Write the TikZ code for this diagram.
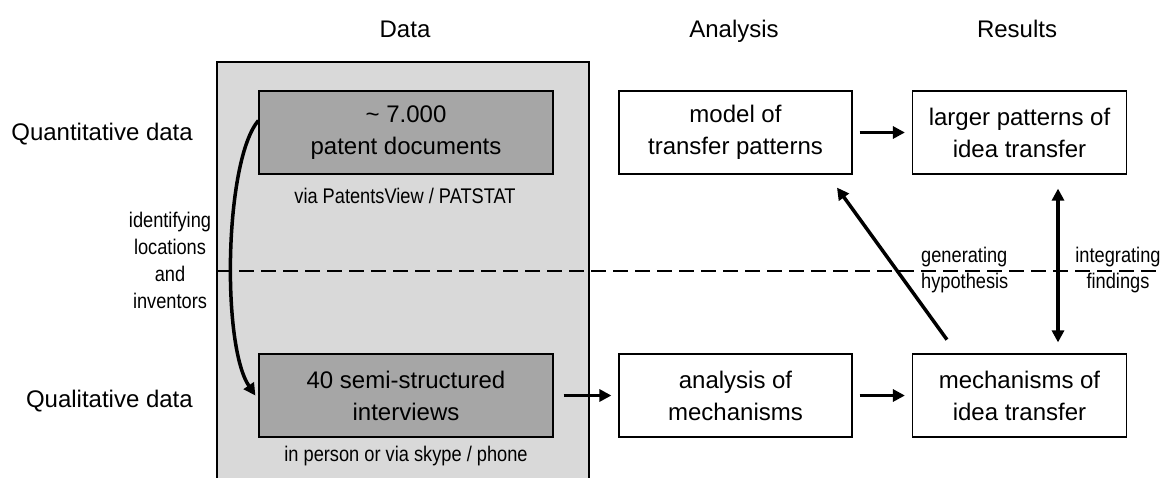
\documentclass[tikz,border=0pt]{standalone}
\usepackage{fontspec}
\setmainfont{Liberation Sans}
\newfontfamily\narrowfont[FakeStretch=0.86]{Liberation Sans}
\usepackage{tikz}
\usetikzlibrary{arrows.meta,positioning}
\definecolor{datagray}{HTML}{D9D9D9}
\definecolor{srcgray}{HTML}{A6A6A6}
\tikzset{every node/.append style={inner sep=0pt}}
\tikzset{bigtext/.style={font=\fontsize{24}{32}\selectfont}}
\tikzset{smalltext/.style={font=\narrowfont\fontsize{21.2}{26}\selectfont}}
\tikzset{box/.style={draw, line width=1.2pt, align=center, bigtext,
    minimum height=83pt}}
\tikzset{srcbox/.style={box, fill=srcgray, minimum width=294pt}}
\tikzset{arr/.style={-{Triangle[length=12pt,width=12pt]}, line width=3.5pt}}

\begin{document}
\begin{tikzpicture}[x=1pt,y=-1pt]
  \pgfmathsetmacro{\xd}{406}
  \pgfmathsetmacro{\xa}{735.5}
  \pgfmathsetmacro{\xr}{1019.5}
  \pgfmathsetmacro{\yq}{132.5}
  \pgfmathsetmacro{\yl}{395.5}
  \useasboundingbox (0,0) rectangle (1161,477);

  % data column
  \fill[datagray] (217,62) rectangle (589,490);
  \draw[line width=1.2pt] (217,490)--(217,62)--(589,62)--(589,490);

  \coordinate (divL) at (217,271);
  \coordinate (divR) at (1161,271);
  \draw[line width=2pt, dash pattern=on 15pt off 7pt] (divL) -- (divR);

  \node[bigtext, anchor=base] (hdata) at (405,37) {Data};
  \node[bigtext, anchor=base] (hana) at (734,37) {Analysis};
  \node[bigtext, anchor=base] (hres) at (1017,37) {Results};

  \node[bigtext, anchor=base east] (quant) at (193,140) {Quantitative data};
  \node[bigtext, anchor=base east] (qual) at (193,407) {Qualitative data};

  \node[srcbox] (patent) at (\xd,\yq) {\textasciitilde\ 7.000\\patent documents};
  \node[srcbox] (interviews) at (\xd,\yl) {40 semi-structured\\interviews};
  \node[smalltext, anchor=base] (viapat) at (405,203) {via PatentsView / PATSTAT};
  \node[smalltext, anchor=base] (viaint) at (406,461) {in person or via skype / phone};

  \node[box, minimum width=233pt] (model) at (\xa,\yq) {model of\\transfer patterns};
  \node[box, minimum width=214pt] (larger) at (\xr,\yq) {larger patterns of\\idea transfer};
  \node[box, minimum width=233pt] (analysis) at (\xa,\yl) {analysis of\\mechanisms};
  \node[box, minimum width=214pt] (mech) at (\xr,\yl) {mechanisms of\\idea transfer};

  \node[smalltext, font=\narrowfont\fontsize{21.2}{27}\selectfont, align=center] (ident)
    at (170,260) {identifying\\locations\\and\\inventors};
  \node[smalltext, align=left, anchor=west] (gen) at (921,270) {generating\\hypothesis};
  \node[smalltext, align=center] (integ) at (1118,270) {integrating\\findings};

  \draw[arr] ([yshift=12pt]patent.west) .. controls +(-34,40) and +(-34,-50)
    .. ([xshift=-3pt]interviews.west);
  \draw[arr, shorten <=10pt, shorten >=7pt] (interviews) -- (analysis);
  \draw[arr, shorten <=7pt, shorten >=7pt] (model) -- (larger);
  \draw[arr, shorten <=7pt, shorten >=7pt] (analysis) -- (mech);
  \draw[arr, shorten <=17pt, shorten >=16pt] ([xshift=45pt]mech.north west)
    -- ([xshift=-25pt]model.south east);
  \draw[arr, {Triangle[length=12pt,width=12pt]}-{Triangle[length=12pt,width=12pt]},
    shorten <=14pt, shorten >=11pt] ([xshift=38.5pt]larger.south)
    -- ([xshift=38.5pt]mech.north);

\end{tikzpicture}
\end{document}
